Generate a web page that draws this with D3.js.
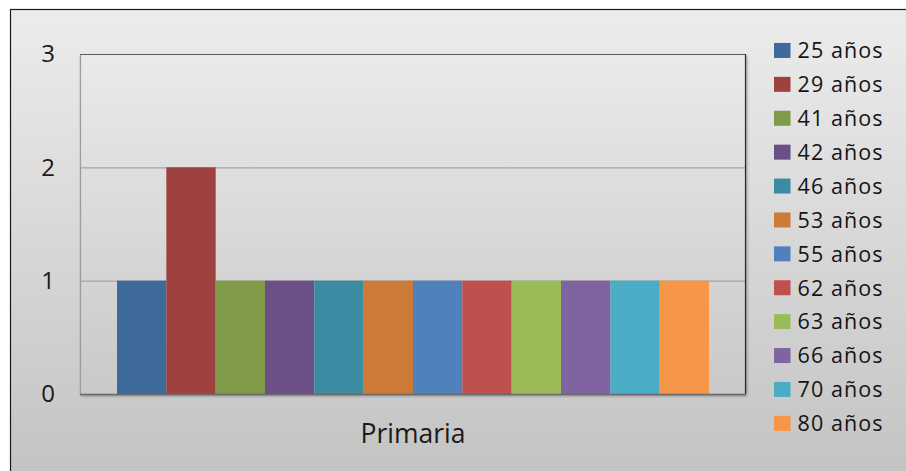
<!DOCTYPE html>
<html>
<head>
<meta charset="utf-8">
<script src="https://d3js.org/d3.v7.min.js"></script>
<style>
  body { margin: 0; background: #fff; }
  svg { display: block; font-family: "Open Sans", sans-serif; }
</style>
</head>
<body>
<div class="chart"></div>
<script>
// data
const ages = ["25 años", "29 años", "41 años", "42 años", "46 años", "53 años",
              "55 años", "62 años", "63 años", "66 años", "70 años", "80 años"];
const counts = [1, 2, 1, 1, 1, 1, 1, 1, 1, 1, 1, 1];
const category = ["Primaria"];
const yTicks = [0, 1, 2, 3];
const colors = ["#3e6a9b", "#9e413f", "#7f9a48", "#6a5086", "#3b8ca3", "#cc7a38",
                "#4f81bd", "#c0504d", "#9bbb59", "#8064a2", "#4bacc6", "#f79646"];

const W = 906, H = 471;
const plot = {left: 80, right: 746, top: 54, bottom: 394};

const svg = d3.select(".chart").append("svg")
    .attr("width", W)
    .attr("height", H);

const defs = svg.append("defs");
const bgGrad = defs.append("linearGradient")
    .attr("id", "bg").attr("x1", 0).attr("y1", 0).attr("x2", 0).attr("y2", 1);
bgGrad.append("stop").attr("offset", "0%").attr("stop-color", "#ececec");
bgGrad.append("stop").attr("offset", "100%").attr("stop-color", "#c2c2c2");

const plotGrad = defs.append("linearGradient")
    .attr("id", "plotbg").attr("x1", 0).attr("y1", 0).attr("x2", 0).attr("y2", 1);
plotGrad.append("stop").attr("offset", "0%").attr("stop-color", "#eaeaea");
plotGrad.append("stop").attr("offset", "100%").attr("stop-color", "#c9c9c9");

defs.append("filter").attr("id", "shadow")
    .attr("x", "-5%").attr("y", "-5%").attr("width", "110%").attr("height", "120%")
  .append("feDropShadow")
    .attr("dx", 1).attr("dy", 2).attr("stdDeviation", 1.5)
    .attr("flood-color", "#000").attr("flood-opacity", 0.35);

// chart area
svg.append("rect")
    .attr("x", 10.5).attr("y", 9.5)
    .attr("width", W + 10).attr("height", H + 10)
    .attr("fill", "url(#bg)")
    .attr("stroke", "#1a1a1a")
    .attr("stroke-width", 1.2);

const x = d3.scaleBand()
    .domain(ages)
    .range([plot.left, plot.right])
    .paddingInner(0)
    .paddingOuter(0.75);

const y = d3.scaleLinear()
    .domain([0, 3])
    .range([plot.bottom, plot.top]);

const xCat = d3.scaleBand()
    .domain(category)
    .range([plot.left, plot.right]);

// plot area
svg.append("rect")
    .attr("x", plot.left).attr("y", plot.top)
    .attr("width", plot.right - plot.left).attr("height", plot.bottom - plot.top)
    .attr("fill", "url(#plotbg)")
    .attr("filter", "url(#shadow)");

// gridlines
svg.append("g")
    .selectAll("line")
    .data(yTicks.slice(1, -1))
    .enter()
    .append("line")
    .attr("x1", plot.left).attr("x2", plot.right)
    .attr("y1", d => y(d) + 0.5).attr("y2", d => y(d) + 0.5)
    .attr("stroke", "#a3a3a3")
    .attr("stroke-width", 1.2);

// bars
svg.append("g")
    .selectAll("rect")
    .data(counts)
    .enter()
    .append("rect")
    .attr("x", (d, i) => x(ages[i]))
    .attr("y", d => y(d))
    .attr("width", x.bandwidth())
    .attr("height", d => y(0) - y(d))
    .attr("fill", (d, i) => colors[i]);

// plot frame
const frame = svg.append("g");
frame.append("line")
    .attr("x1", plot.left + 0.5).attr("x2", plot.left + 0.5)
    .attr("y1", plot.top).attr("y2", plot.bottom)
    .attr("stroke", "#9c9c9c").attr("stroke-width", 1.2);
frame.append("line")
    .attr("x1", plot.left).attr("x2", plot.right)
    .attr("y1", plot.top + 0.5).attr("y2", plot.top + 0.5)
    .attr("stroke", "#5e5e5e").attr("stroke-width", 1.2);
frame.append("line")
    .attr("x1", plot.right - 0.5).attr("x2", plot.right - 0.5)
    .attr("y1", plot.top).attr("y2", plot.bottom)
    .attr("stroke", "#2a2a2a").attr("stroke-width", 1.2);
frame.append("line")
    .attr("x1", plot.left).attr("x2", plot.right)
    .attr("y1", plot.bottom + 0.5).attr("y2", plot.bottom + 0.5)
    .attr("stroke", "#6a6a6a").attr("stroke-width", 1.5);

// y axis
const yAxis = svg.append("g")
    .attr("transform", "translate(" + plot.left + ",0)")
    .call(d3.axisLeft(y).tickValues(yTicks).tickFormat(d3.format("d")).tickSize(0).tickPadding(25));
yAxis.select(".domain").remove();
yAxis.selectAll("text")
    .attr("font-family", "'Open Sans', sans-serif")
    .attr("font-size", 24)
    .attr("fill", "#1a1a1a");

// x axis (single category)
const xAxis = svg.append("g")
    .attr("transform", "translate(0," + plot.bottom + ")")
    .call(d3.axisBottom(xCat).tickSize(0).tickPadding(30));
xAxis.select(".domain").remove();
xAxis.selectAll("text")
    .attr("font-family", "'Open Sans', sans-serif")
    .attr("font-size", 26.5)
    .attr("fill", "#1a1a1a");

// legend
const row = d3.scaleBand()
    .domain(ages)
    .range([33.5, 440.3]);

const legend = svg.append("g")
    .selectAll("g")
    .data(ages)
    .enter()
    .append("g")
    .attr("transform", d => "translate(774," + (row(d) + row.bandwidth() / 2) + ")");

legend.append("rect")
    .attr("x", 0).attr("y", -7.5)
    .attr("width", 16.5).attr("height", 15)
    .attr("fill", (d, i) => colors[i]);

legend.append("text")
    .attr("x", 23.5).attr("y", 7.8)
    .attr("font-size", 21.5)
    .attr("letter-spacing", 1.1)
    .attr("fill", "#141414")
    .text(d => d);
</script>
</body>
</html>
